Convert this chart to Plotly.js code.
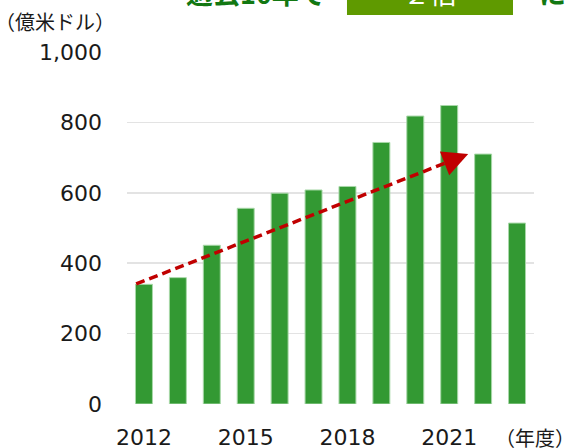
<!DOCTYPE html>
<html>
<head>
<meta charset="utf-8">
<script src="https://cdn.plot.ly/plotly-3.0.1.min.js"></script>
<style>html,body{margin:0;padding:0;background:#fff;}#chart{width:565px;height:448px;}</style>
</head>
<body>
<div id="chart"></div>
<script>
// Data
const years = [2012, 2013, 2014, 2015, 2016, 2017, 2018, 2019, 2020, 2021, 2022, 2023];
const values = [340, 359, 451, 556, 599, 608, 618, 743, 818, 848, 710, 514];
const xTickVals = [2012, 2015, 2018, 2021];
const xTickText = ['2012', '2015', '2018', '2021'];
const yTickVals = [0, 200, 400, 600, 800, 1000];
const yTickText = ['0', '200', '400', '600', '800', '1,000'];
const trendStart = [2011.77, 341];
const trendEnd = [2021.56, 710];
const headBack = [2021.26, 698.7];
const yUnit = '（億米ドル）';
const xUnit = '（年度）';
const titleLeft = '過去10年で';
const titleBox = '２倍';
const titleRight = 'に拡大';

const FONT = 'DejaVu Sans, Verdana, sans-serif';
const JFONT = 'Noto Sans CJK JP, sans-serif';

const data = [
  {
    type: 'bar', x: years, y: values,
    marker: {color: '#339933', line: {color: '#a8d8a8', width: 1}},
    hoverinfo: 'skip'
  },
  {
    type: 'scatter', mode: 'lines',
    x: [trendStart[0], headBack[0]], y: [trendStart[1], headBack[1]],
    line: {color: '#c00000', width: 3.5, dash: '9px,5px'},
    hoverinfo: 'skip'
  }
];

const layout = {
  width: 565, height: 448,
  margin: {l: 127, r: 31, t: 52, b: 44, pad: 0},
  paper_bgcolor: '#ffffff', plot_bgcolor: '#ffffff',
  showlegend: false,
  bargap: 0.5,
  xaxis: {
    range: [2011.5, 2023.5], tickmode: 'array', tickvals: xTickVals, ticktext: xTickText,
    showgrid: false, zeroline: false, showline: false, ticks: '',
    tickfont: {family: FONT, size: 22, color: '#1a1a1a'},
    ticklabelstandoff: 18, fixedrange: true
  },
  yaxis: {
    range: [0, 1000], tickmode: 'array', tickvals: yTickVals, ticktext: yTickText,
    showgrid: true, gridcolor: '#e3e3e3', gridwidth: 1.5, zeroline: false, showline: false, ticks: '',
    tickfont: {family: FONT, size: 22, color: '#1a1a1a'},
    ticklabelstandoff: 24, fixedrange: true
  },
  shapes: [
    {type: 'rect', xref: 'paper', yref: 'paper', x0: 0.5405, x1: 0.9484, y0: 1.105, y1: 1.35,
     fillcolor: '#5f9a00', line: {width: 0}, layer: 'above'}
  ],
  annotations: [
    {x: trendEnd[0], y: trendEnd[1], ax: headBack[0], ay: headBack[1], axref: 'x', ayref: 'y',
     xref: 'x', yref: 'y', text: '', showarrow: true, arrowhead: 2, arrowsize: 1.45, arrowwidth: 3.5,
     arrowcolor: '#c00000', standoff: 0, startstandoff: 0},
    {xref: 'paper', yref: 'paper', x: -0.178, y: 1.088, xanchor: 'center', yanchor: 'middle',
     text: yUnit, showarrow: false, font: {family: JFONT, size: 20, color: '#1a1a1a'}},
    {xref: 'paper', yref: 'paper', x: 0.9, y: -0.095, xanchor: 'left', yanchor: 'middle',
     text: xUnit, showarrow: false, font: {family: JFONT, size: 20, color: '#1a1a1a'}},
    {xref: 'paper', yref: 'paper', x: 0.494, y: 1.168, xanchor: 'right', yanchor: 'middle',
     text: '<b>' + titleLeft + '</b>', showarrow: false, font: {family: JFONT, size: 27, color: '#127812'}},
    {xref: 'paper', yref: 'paper', x: 0.745, y: 1.168, xanchor: 'center', yanchor: 'middle',
     text: titleBox, showarrow: false, font: {family: JFONT, size: 27, color: '#ffffff'}},
    {xref: 'paper', yref: 'paper', x: 1.007, y: 1.168, xanchor: 'left', yanchor: 'middle',
     text: '<b>' + titleRight + '</b>', showarrow: false, font: {family: JFONT, size: 27, color: '#127812'}}
  ]
};

Plotly.newPlot('chart', data, layout, {displayModeBar: false, staticPlot: true});
</script>
</body>
</html>
